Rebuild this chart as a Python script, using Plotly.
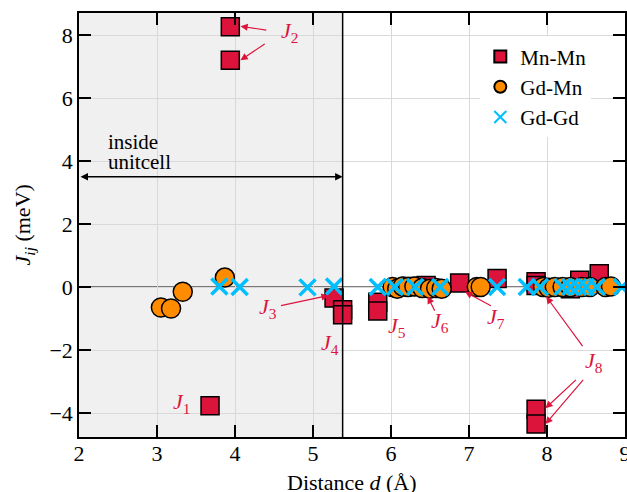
import plotly.graph_objects as go

# ---- data ----
mn_d = [3.68, 3.94, 3.94, 5.27, 5.38, 5.38, 5.83, 5.83, 6.25, 6.45, 6.88, 7.36,
        7.86, 7.86, 8.30, 8.42, 8.67, 7.86, 7.86]
mn_J = [-3.77, 8.26, 7.20, -0.35, -0.72, -0.88, -0.48, -0.76, 0.02, 0.05, 0.13, 0.27,
        0.17, 0.05, -0.05, 0.22, 0.42, -3.88, -4.35]

gm_d = [3.05, 3.18, 3.33, 3.87, 6.02, 6.08, 6.15, 6.22, 6.30, 6.40, 6.50, 6.58, 6.65,
        7.10, 7.15, 7.95, 8.02, 8.10, 8.20, 8.30, 8.45, 8.55, 8.75, 8.82]
gm_J = [-0.65, -0.68, -0.15, 0.30, 0.00, -0.05, 0.02, 0.00, 0.02, -0.03, -0.05, -0.03, -0.05,
        0.00, 0.00, 0.00, -0.02, 0.00, 0.00, 0.00, 0.00, 0.00, 0.00, 0.02]

gg_d = [3.80, 4.06, 4.93, 5.27, 5.83, 6.05, 6.31, 6.63, 7.36, 7.74, 7.91, 8.20, 8.30,
        8.40, 8.50, 8.64, 8.96]
gg_J = [0.02, 0.0, -0.01, 0.02, 0.0, 0.0, 0.0, 0.0, 0.0, 0.0, 0.0, 0.0, 0.0,
        0.0, 0.0, 0.0, 0.0]

x_ticks = [2, 3, 4, 5, 6, 7, 8, 9]
y_ticks = [-4, -2, 0, 2, 4, 6, 8]
cell_edge = 5.38

RED = "#DC143C"
FONT = "Liberation Serif"

fig = go.Figure()
fig.add_trace(go.Scatter(x=mn_d, y=mn_J, mode="markers", name="Mn-Mn",
                         marker=dict(symbol="square", size=18, color=RED,
                                     line=dict(color="black", width=1.5))))
fig.add_trace(go.Scatter(x=gm_d, y=gm_J, mode="markers", name="Gd-Mn",
                         marker=dict(symbol="circle", size=19, color="#FF8C00",
                                     line=dict(color="black", width=1.5))))
fig.add_trace(go.Scatter(x=gg_d, y=gg_J, mode="markers", name="Gd-Gd",
                         marker=dict(symbol="x-thin", size=16, color="#00BFFF",
                                     line=dict(color="#00BFFF", width=3.5))))

# shaded unit-cell region
fig.add_shape(type="rect", xref="x", yref="paper", x0=2, x1=cell_edge, y0=0, y1=1,
              fillcolor="#F0F0F0", line=dict(width=0), layer="below")
fig.add_shape(type="line", xref="x", yref="paper", x0=cell_edge, x1=cell_edge, y0=0, y1=1,
              line=dict(color="black", width=1.5))
# zero line
fig.add_shape(type="line", xref="paper", yref="y", x0=0, x1=1, y0=0, y1=0,
              line=dict(color="black", width=1.3), layer="below")

# double arrow
fig.add_annotation(x=cell_edge, y=3.5, ax=2.0, ay=3.5, xref="x", yref="y", axref="x", ayref="y",
                   text="", showarrow=True, arrowhead=2, startarrowhead=2, arrowside="end+start",
                   arrowwidth=1.5, arrowcolor="black", arrowsize=1, startarrowsize=1)
tfont = dict(family=FONT, size=21, color="black")
fig.add_annotation(x=2.35, y=4.62, xref="x", yref="y", text="inside",
                   showarrow=False, xanchor="left", yanchor="middle", font=tfont)
fig.add_annotation(x=2.35, y=3.97, xref="x", yref="y", text="unitcell",
                   showarrow=False, xanchor="left", yanchor="middle", font=tfont)

def J(n):
    return f"<i>J</i><sub>{n}</sub>"

afont = dict(family=FONT, size=22, color=RED)
# labels without arrows
for n, x, y in [(1, 3.32, -3.68), (4, 5.22, -1.8), (5, 6.08, -1.28)]:
    fig.add_annotation(x=x, y=y, text=J(n), showarrow=False, font=afont)
# label texts
fig.add_annotation(x=4.7, y=8.1, text=J(2), showarrow=False, font=afont)
fig.add_annotation(x=4.42, y=-0.68, text=J(3), showarrow=False, font=afont)
fig.add_annotation(x=6.63, y=-1.12, text=J(6), showarrow=False, font=afont)
fig.add_annotation(x=7.35, y=-0.98, text=J(7), showarrow=False, font=afont)
fig.add_annotation(x=8.6, y=-2.38, text=J(8), showarrow=False, font=afont)

def arrow(x0, y0, x1, y1):
    fig.add_annotation(x=x1, y=y1, ax=x0, ay=y0, xref="x", yref="y", axref="x", ayref="y",
                       text="", showarrow=True, arrowhead=2, arrowsize=1.2, arrowwidth=1.2,
                       arrowcolor=RED)

arrow(4.42, 8.15, 4.07, 8.28)
arrow(4.4, 7.75, 4.07, 7.2)
arrow(4.57, -0.6, 5.2, -0.27)
arrow(6.57, -0.8, 6.47, -0.3)
arrow(7.3, -0.62, 6.95, -0.15)
arrow(8.47, -1.92, 7.99, -0.3)
arrow(8.39, -2.9, 7.98, -3.85)
arrow(8.48, -2.9, 7.98, -4.35)

axis_common = dict(showline=True, linecolor="black", linewidth=1.5, mirror="ticks",
                   ticks="inside", ticklen=12, tickwidth=1.5, tickcolor="black",
                   showgrid=True, gridcolor="#D9D9D9", gridwidth=1, zeroline=False,
                   tickfont=dict(family=FONT, size=22, color="black"), automargin=False)

fig.update_xaxes(range=[2, 9], tickvals=x_ticks, ticklabeloverflow="allow",
                 ticklabelstandoff=-4, **axis_common)
fig.update_yaxes(range=[-4.76, 8.7], tickvals=y_ticks,
                 ticktext=[str(v).replace("-", "\u2212") for v in y_ticks], **axis_common)

# axis titles as annotations for exact placement
fig.add_annotation(x=0.5, y=-0.108, xref="paper", yref="paper", showarrow=False,
                   text="Distance <i>d</i> (Å)", font=dict(family=FONT, size=22, color="black"),
                   xanchor="center", yanchor="middle")
fig.add_annotation(x=-0.1, y=0.5, xref="paper", yref="paper", showarrow=False, textangle=-90,
                   text="<i>J</i><sub><i>ij</i></sub> (meV)",
                   font=dict(family=FONT, size=22, color="black"),
                   xanchor="center", yanchor="middle")

fig.update_layout(width=627, height=492,
                  margin=dict(l=79, r=2, t=13, b=55, autoexpand=False),
                  plot_bgcolor="white", paper_bgcolor="white",
                  font=dict(family=FONT, size=20, color="black"),
                  legend=dict(x=0.735, y=0.945, xanchor="left", yanchor="top",
                              bgcolor="white", borderwidth=0,
                              font=dict(family=FONT, size=21, color="black"),
                              itemsizing="constant", tracegroupgap=2),
                  showlegend=True)

fig.write_html("out.html", config={"displayModeBar": False},
               post_script="document.body.style.margin='0';")
